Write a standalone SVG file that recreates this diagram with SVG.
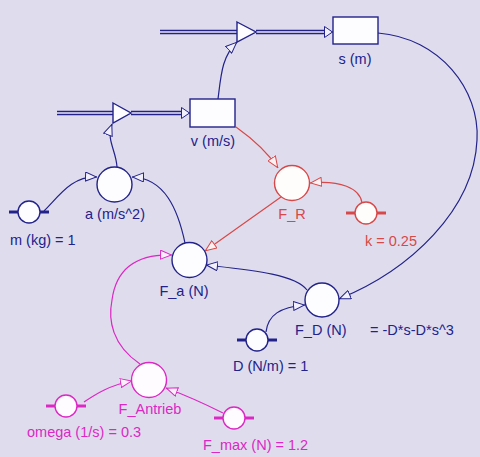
<svg xmlns="http://www.w3.org/2000/svg" width="480" height="457" viewBox="0 0 480 457">
<style>
text{font-family:"Liberation Sans",Arial,sans-serif;font-size:14.5px}
.b{fill:#22228a}.r{fill:#d84848}.m{fill:#dc28c4}
.cb{stroke:#22228a;fill:none;stroke-width:1.2}
.cr{stroke:#d84848;fill:none;stroke-width:1.2}
.cm{stroke:#dc28c4;fill:none;stroke-width:1.2}
.nb{stroke:#22228a;fill:#fdfcff;stroke-width:1.4}
.nr{stroke:#d84848;fill:#fffcfc;stroke-width:1.4}
.nm{stroke:#dc28c4;fill:#fffcff;stroke-width:1.4}
.tb{stroke:#22228a;stroke-width:3}
.tr{stroke:#d84848;stroke-width:3}
.tm{stroke:#dc28c4;stroke-width:3}
.fo{stroke:#22228a;stroke-width:4.5;fill:none}
.fi{stroke:#eceaf6;stroke-width:1.4;fill:none}
</style>
<defs>
<marker id="ab" viewBox="0 0 12 10" refX="12" refY="5" markerWidth="12" markerHeight="10" markerUnits="userSpaceOnUse" orient="auto"><path d="M0.5,0.5 L11.5,5 L0.5,9.5 Z" fill="#f2f0fa" stroke="#22228a" stroke-width="1"/></marker>
<marker id="ar" viewBox="0 0 12 10" refX="12" refY="5" markerWidth="12" markerHeight="10" markerUnits="userSpaceOnUse" orient="auto"><path d="M0.5,0.5 L11.5,5 L0.5,9.5 Z" fill="#fbf0f2" stroke="#d84848" stroke-width="1"/></marker>
<marker id="am" viewBox="0 0 12 10" refX="12" refY="5" markerWidth="12" markerHeight="10" markerUnits="userSpaceOnUse" orient="auto"><path d="M0.5,0.5 L11.5,5 L0.5,9.5 Z" fill="#faf0fa" stroke="#dc28c4" stroke-width="1"/></marker>
<marker id="af" viewBox="0 0 9 12" refX="9" refY="6" markerWidth="9" markerHeight="12" markerUnits="userSpaceOnUse" orient="auto"><path d="M0.5,0.5 L8.5,6 L0.5,11.5 Z" fill="#f2f0fa" stroke="#22228a" stroke-width="1"/></marker>
</defs>
<rect width="480" height="457" fill="#dfdded"/>

<g id="connectors">
<path class="fo" d="M160,32 H238"/><path class="fi" d="M160,32 H238"/>
<path class="fo" d="M256,32 H326"/><path class="fi" d="M256,32 H326"/>
<path class="cb" d="M326,32 H333" marker-end="url(#af)"/>
<path class="fo" d="M57,113 H114"/><path class="fi" d="M57,113 H114"/>
<path class="fo" d="M131,113 H183"/><path class="fi" d="M131,113 H183"/>
<path class="cb" d="M183,113 H190" marker-end="url(#af)"/>
<path class="cb" d="M218,99 C221,75 222,56 237,42" marker-end="url(#ab)"/>
<path class="cb" d="M117,167 C116,150 106,140 112,124" marker-end="url(#ab)"/>
<path class="cb" d="M44,211 C60,195 72,176 97,177" marker-end="url(#ab)"/>
<path class="cb" d="M185,243 C178,210 165,178 132,177" marker-end="url(#ab)"/>
<path class="cb" d="M307,290 C295,274 250,270 206,265" marker-end="url(#ab)"/>
<path class="cb" d="M378,33 C440,38 480,90 477,140 C474,210 410,270 339,299" marker-end="url(#ab)"/>
<path class="cb" d="M266,332 C268,315 280,307 305,305" marker-end="url(#ab)"/>
<path class="cr" d="M236,127 C250,137 266,150 278,168" marker-end="url(#ar)"/>
<path class="cr" d="M362,203 C360,188 340,180 310,183" marker-end="url(#ar)"/>
<path class="cr" d="M281,197 L205,251" marker-end="url(#ar)"/>
<path class="cm" d="M140,364 C112,345 108,320 112,300 C116,270 135,254 172,255" marker-end="url(#am)"/>
<path class="cm" d="M84,402 C96,394 110,385 132,381" marker-end="url(#am)"/>
<path class="cm" d="M223,413 C205,404 185,395 166,388" marker-end="url(#am)"/>
</g>

<g id="valve_s"><polygon points="237,22 256,32 237,42" class="nb"/></g>
<g id="valve_v"><polygon points="113,103 131,113 113,123" class="nb"/></g>

<g id="s"><rect x="333" y="17" width="45" height="27" class="nb" stroke-width="1.8"/><text x="355" y="64" text-anchor="middle" class="b">s (m)</text></g>
<g id="v"><rect x="190" y="99" width="45" height="28" class="nb" stroke-width="1.8"/><text x="213" y="146" text-anchor="middle" class="b">v (m/s)</text></g>

<g id="a"><circle cx="114.5" cy="184.5" r="17.5" class="nb"/><text x="115" y="219" text-anchor="middle" class="b">a (m/s^2)</text></g>
<g id="F_R"><circle cx="292" cy="183" r="17.5" class="nr"/><text x="292" y="219" text-anchor="middle" class="r">F_R</text></g>
<g id="F_a"><circle cx="189.5" cy="260" r="17.5" class="nb"/><text x="184" y="296" text-anchor="middle" class="b">F_a (N)</text></g>
<g id="F_D"><circle cx="322" cy="300" r="17" class="nb"/><text x="295" y="335" class="b">F_D (N)</text><text x="370" y="335" class="b">= -D*s-D*s^3</text></g>
<g id="F_Antrieb"><circle cx="149" cy="380" r="17.5" class="nm"/><text x="150" y="414" text-anchor="middle" class="m">F_Antrieb</text></g>

<g id="m"><line x1="9" y1="212" x2="18" y2="212" class="tb"/><line x1="40" y1="212" x2="49" y2="212" class="tb"/><circle cx="29" cy="212" r="11" class="nb"/><text x="10" y="245" class="b">m (kg) = 1</text></g>
<g id="k"><line x1="346" y1="213" x2="355" y2="213" class="tr"/><line x1="377" y1="213" x2="386" y2="213" class="tr"/><circle cx="366" cy="213" r="11" class="nr"/><text x="365" y="246" class="r">k = 0.25</text></g>
<g id="D"><line x1="237" y1="340" x2="246" y2="340" class="tb"/><line x1="268" y1="340" x2="277" y2="340" class="tb"/><circle cx="257" cy="340" r="11" class="nb"/><text x="233" y="371" class="b">D (N/m) = 1</text></g>
<g id="omega"><line x1="46" y1="406" x2="55" y2="406" class="tm"/><line x1="77" y1="406" x2="86" y2="406" class="tm"/><circle cx="66" cy="406" r="11" class="nm"/><text x="27" y="437" class="m">omega (1/s) = 0.3</text></g>
<g id="F_max"><line x1="214" y1="418" x2="223" y2="418" class="tm"/><line x1="245" y1="418" x2="254" y2="418" class="tm"/><circle cx="234" cy="418" r="11" class="nm"/><text x="203" y="450" class="m">F_max (N) = 1.2</text></g>
</svg>
